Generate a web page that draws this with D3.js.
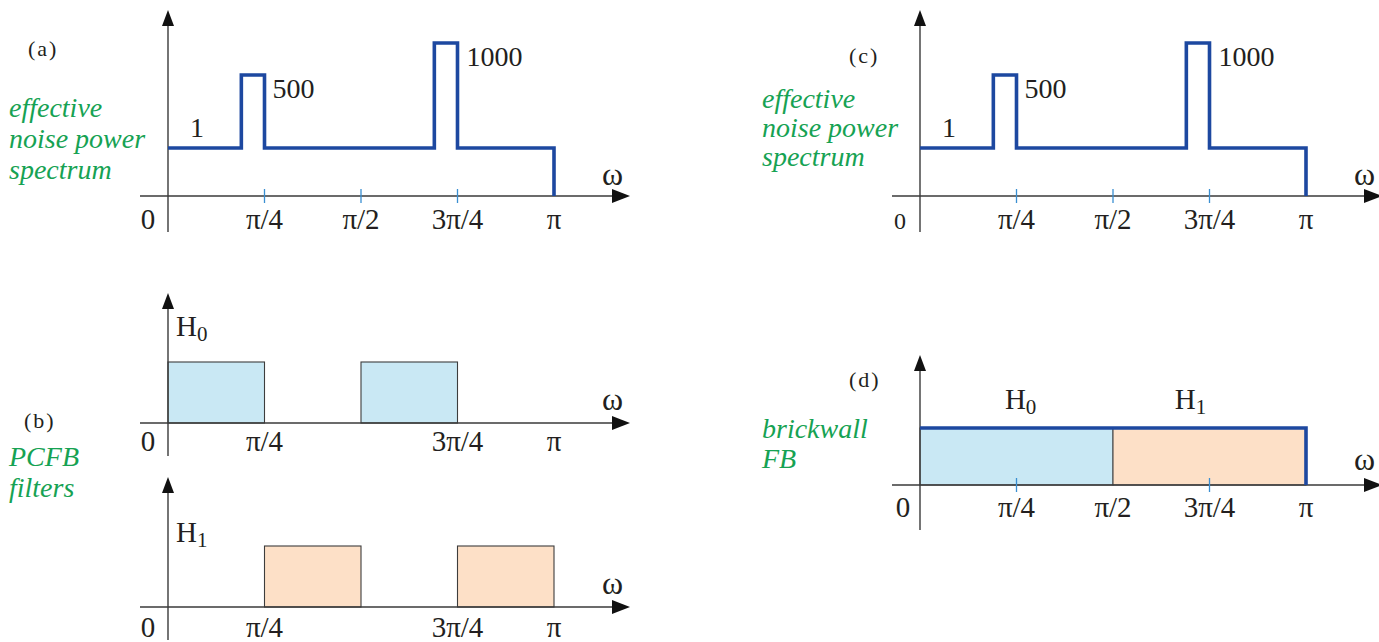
<!DOCTYPE html>
<html lang="en">
<head>
<meta charset="utf-8">
<script src="https://cdn.jsdelivr.net/npm/d3@7"></script>
<style>
  body { margin: 0; background: #fff; }
  text { font-family: "Liberation Serif", "DejaVu Serif", serif; fill: #231f20; }
  .green { fill: #16a253; font-style: italic; }
</style>
</head>
<body>
<script>
// values, frequencies in units of pi
var spectrumEdges = [0, 0.19, 0.25, 0.69, 0.75, 1];
var spectrumLevels = [1, 500, 1, 1000, 1];
var levelLabels = ["1", "500", "1000"];
var h0Bands = [[0, 0.25], [0.5, 0.75]];
var h1Bands = [[0.25, 0.5], [0.75, 1]];
var brickH0 = [[0, 0.5]];
var brickH1 = [[0.5, 1]];
var tickValues = [0, 0.25, 0.5, 0.75, 1];
var tickLabels = ["0", "π/4", "π/2", "3π/4", "π"];

var W = 1379, H = 642;
var svg = d3.select("body").append("svg").attr("width", W).attr("height", H);

var blue = "#1d48a0", tickBlue = "#3a8fd2", axisCol = "#3a3a3a";
var fillBlue = "#c9e8f4", fillPeach = "#fde0c7";

function axes(g, x, y0, tipY, botY, omegaY) {
  // x axis with arrow
  var x1 = x.range()[0] - 28, x2 = x.range()[0] + 462;
  g.append("line").attr("x1", x1).attr("x2", x2 - 14).attr("y1", y0).attr("y2", y0)
    .attr("stroke", axisCol).attr("stroke-width", 1.4);
  g.append("path").attr("d", "M" + x2 + "," + y0 + "L" + (x2 - 18) + "," + (y0 - 7) + "L" + (x2 - 18) + "," + (y0 + 7) + "Z")
    .attr("fill", "#111");
  // y axis with arrow
  var xa = x(0);
  g.append("line").attr("x1", xa).attr("x2", xa).attr("y1", botY).attr("y2", tipY + 12)
    .attr("stroke", axisCol).attr("stroke-width", 1.4);
  g.append("path").attr("d", "M" + xa + "," + tipY + "L" + (xa - 6) + "," + (tipY + 16) + "L" + (xa + 6) + "," + (tipY + 16) + "Z")
    .attr("fill", "#111");
  g.append("text").attr("x", x2 - 28).attr("y", omegaY).attr("font-size", 32).text("ω");
}

function tickText(g, x, vals, y, zeroX, zeroSize) {
  vals.forEach(function (v) {
    var i = tickValues.indexOf(v);
    var t = g.append("text").attr("y", y).attr("font-size", 29).text(tickLabels[i]);
    if (v === 0) t.attr("x", zeroX).attr("text-anchor", "middle").attr("font-size", zeroSize || 29);
    else t.attr("x", x(v)).attr("text-anchor", "middle");
  });
}

function tickMarks(g, x, vals, y0) {
  g.selectAll(null).data(vals).join("line")
    .attr("x1", function (d) { return x(d); }).attr("x2", function (d) { return x(d); })
    .attr("y1", y0 - 7).attr("y2", y0 + 7)
    .attr("stroke", tickBlue).attr("stroke-width", 1.3);
}

function greenText(g, lines, x, y, dy) {
  lines.forEach(function (s, i) {
    g.append("text").attr("class", "green").attr("x", x).attr("y", y + i * dy)
      .attr("font-size", 28).text(s);
  });
}

function spectrumPanel(x0, label, labelX, labelY, greenX, greenY, greenDy, zeroSize) {
  var g = svg.append("g");
  var x = d3.scaleLinear().domain([0, 1]).range([x0, x0 + 386]);
  var axisY = 196;
  var y = d3.scaleLinear().domain([0, 1, 500, 1000]).range([axisY, axisY - 48, axisY - 121, axisY - 153]);
  axes(g, x, axisY, 10, 232, 185);
  tickMarks(g, x, [0.25, 0.5, 0.75], axisY);
  var pts = spectrumEdges.map(function (e, i) {
    return [e, i < spectrumLevels.length ? spectrumLevels[i] : 0];
  });
  var line = d3.line().x(function (d) { return x(d[0]); }).y(function (d) { return y(d[1]); })
    .curve(d3.curveStepAfter);
  g.append("path").attr("d", line(pts)).attr("fill", "none").attr("stroke", blue)
    .attr("stroke-width", 3.6).attr("stroke-linejoin", "miter");
  // level labels
  g.append("text").attr("x", x(0.075)).attr("y", y(1) - 11).attr("text-anchor", "middle")
    .attr("font-size", 28).text(levelLabels[0]);
  g.append("text").attr("x", x(spectrumEdges[2]) + 8).attr("y", y(500) + 23)
    .attr("font-size", 28).text(levelLabels[1]);
  g.append("text").attr("x", x(spectrumEdges[4]) + 9).attr("y", y(1000) + 23)
    .attr("font-size", 28).text(levelLabels[2]);
  tickText(g, x, tickValues, 229, x0 - 20, zeroSize);
  g.append("text").attr("x", labelX).attr("y", labelY).attr("font-size", 22)
    .attr("letter-spacing", 2).text(label);
  greenText(g, ["effective", "noise power", "spectrum"], greenX, greenY, greenDy);
}

spectrumPanel(168, "(a)", 28, 56, 9, 117, 31, 29);
spectrumPanel(920, "(c)", 849, 63, 762, 108, 29, 24);

function filterPanel(axisY, tipY, bands, fill, sub, hY, labelY) {
  var g = svg.append("g");
  var x = d3.scaleLinear().domain([0, 1]).range([168, 554]);
  var y = d3.scaleLinear().domain([0, 1]).range([axisY, axisY - 61]);
  g.selectAll("rect").data(bands).join("rect")
    .attr("x", function (d) { return x(d[0]); })
    .attr("y", y(1))
    .attr("width", function (d) { return x(d[1]) - x(d[0]); })
    .attr("height", y(0) - y(1))
    .attr("fill", fill).attr("stroke", "#3d3d3d").attr("stroke-width", 1.1);
  axes(g, x, axisY, tipY, axisY + 33, axisY - 13);
  tickText(g, x, [0, 0.25, 0.75, 1], labelY, 148);
  var t = g.append("text").attr("x", 176).attr("y", hY).attr("font-size", 29).text("H");
  t.append("tspan").attr("font-size", 21).attr("dy", 5).text(sub);
}

filterPanel(423, 293, h0Bands, fillBlue, "0", 336, 451);
filterPanel(607, 477, h1Bands, fillPeach, "1", 542, 637);
svg.append("text").attr("x", 24).attr("y", 428).attr("font-size", 22).attr("letter-spacing", 2).text("(b)");
greenText(svg, ["PCFB", "filters"], 9, 466, 31);

// (d) brickwall filter bank
(function () {
  var g = svg.append("g");
  var x = d3.scaleLinear().domain([0, 1]).range([920, 1306]);
  var axisY = 485;
  var y = d3.scaleLinear().domain([0, 1]).range([axisY, axisY - 57]);
  [[brickH0, fillBlue], [brickH1, fillPeach]].forEach(function (p) {
    g.selectAll(null).data(p[0]).join("rect")
      .attr("x", function (d) { return x(d[0]); }).attr("y", y(1))
      .attr("width", function (d) { return x(d[1]) - x(d[0]); })
      .attr("height", y(0) - y(1))
      .attr("fill", p[1]).attr("stroke", "#4a4a4a").attr("stroke-width", 1.1);
  });
  axes(g, x, axisY, 355, 530, 470);
  tickMarks(g, x, [0.25, 0.75], axisY);
  g.append("path")
    .attr("d", d3.line()([[x(0), y(1)], [x(1), y(1)], [x(1), y(0)]]))
    .attr("fill", "none").attr("stroke", blue).attr("stroke-width", 3.6);
  tickText(g, x, tickValues, 517, 903, 29);
  var a = g.append("text").attr("x", x(0.22)).attr("y", 409).attr("font-size", 29).text("H");
  a.append("tspan").attr("font-size", 21).attr("dy", 5).text("0");
  var b = g.append("text").attr("x", x(0.66)).attr("y", 409).attr("font-size", 29).text("H");
  b.append("tspan").attr("font-size", 21).attr("dy", 5).text("1");
  g.append("text").attr("x", 849).attr("y", 387).attr("font-size", 22).attr("letter-spacing", 2).text("(d)");
  greenText(g, ["brickwall", "FB"], 762, 438, 30);
})();
</script>
</body>
</html>
